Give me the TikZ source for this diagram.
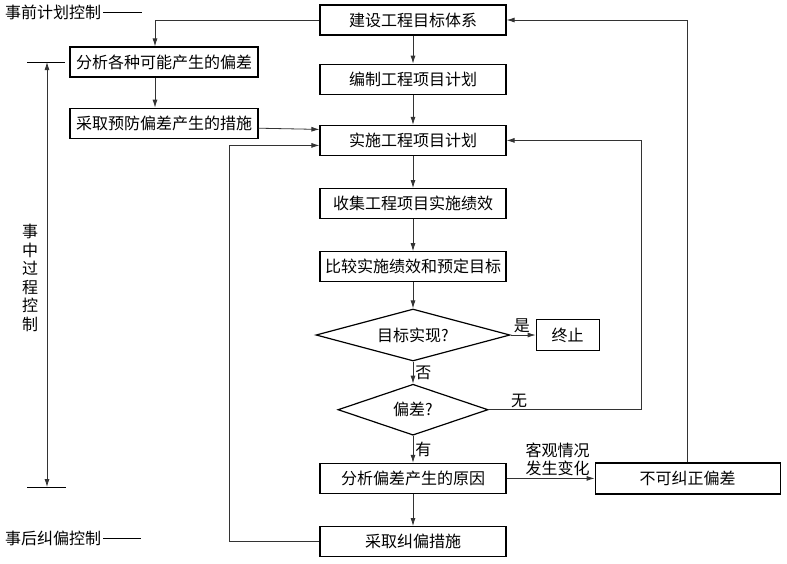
\documentclass[tikz,border=0pt]{standalone}
\usepackage{fontspec}
\setmainfont{Noto Sans CJK SC}
\usepackage{tikz}
\usetikzlibrary{shapes, arrows, arrows.meta, positioning, calc}
\tikzstyle{process} = [rectangle, draw, line width=1.2pt, minimum width=186pt, minimum height=30pt, inner sep=2pt, text centered, font=\fontsize{16}{19}\selectfont]
\tikzstyle{decision} = [diamond, draw, line width=1.2pt, aspect=3.5, inner sep=0pt, font=\fontsize{16}{19}\selectfont]
\tikzstyle{note} = [inner sep=2pt, black, font=\fontsize{16}{19}\selectfont]
\tikzstyle{arrow} = [draw, -{Latex[length=8pt, width=5pt]}, line width=0.8pt, black!80]

\begin{document}
\begin{tikzpicture}[x=1pt, y=-1pt, node distance=30pt, auto]
    \useasboundingbox (0,0) rectangle (787,563);
    % main column
    \node (target) [process] at (413,20) {建设工程目标体系};
    \node (plan) [process, below=28pt of target] {编制工程项目计划};
    \node (impl) [process, below=30pt of plan] {实施工程项目计划};
    \node (collect) [process, below=32pt of impl] {收集工程项目实施绩效};
    \node (compare) [process, below=32pt of collect] {比较实施绩效和预定目标};
    \node (goal) [decision, minimum width=194pt, minimum height=52pt, below=26pt of compare] {目标实现?};
    \node (dev) [decision, minimum width=150pt, minimum height=51pt, below=22pt of goal] {偏差?};
    \node (cause) [process, below=27pt of dev] {分析偏差产生的原因};
    \node (correct) [process, below=32pt of cause] {采取纠偏措施};
    % side boxes
    \node (stop) [process, minimum width=63pt, minimum height=31pt, right=25pt of goal] {终止};
    \node (uncorr) [process, minimum width=185pt, minimum height=31pt, right=88pt of cause] {不可纠正偏差};
    \node (analyse) [process, minimum width=188pt] at (164,62) {分析各种可能产生的偏差};
    \node (prevent) [process, minimum width=188pt, below=30pt of analyse] {采取预防偏差产生的措施};

    % flow
    \draw [arrow] (target) -- (plan);
    \draw [arrow] (plan) -- (impl);
    \draw [arrow] (impl) -- (collect);
    \draw [arrow] (collect) -- (compare);
    \draw [arrow] (compare) -- (goal);
    \draw [arrow] (goal) -- node[note, right] {否} (dev);
    \draw [arrow] (dev) -- node[note, right] {有} (cause);
    \draw [arrow] (cause) -- (correct);
    \draw [arrow] (goal) -- node[note, above, pos=0.45] {是} (stop);
    \draw [arrow] (cause) -- node[note, above, align=center, xshift=7pt, font=\fontsize{16}{18}\selectfont] {客观情况\\发生变化} (uncorr);

    % feedback loops
    \draw [arrow] (dev.east) -- node[note, pos=0.2, above] {无} ++(153,0) |- (impl.east);
    \draw [arrow] (uncorr.north) |- (target.east);
    \draw [arrow] (correct.west) -- ++(-90,0) |- ([yshift=-5pt]impl.west);
    \draw [arrow] (target.west) -| ([xshift=-9pt]analyse.north);
    \draw [arrow] ([xshift=-9pt]analyse.south) -- ([xshift=-9pt]prevent.north);
    \draw [arrow] ([yshift=-5pt]prevent.east) -- ([yshift=11pt]impl.west);

    % control phases
    \node (pre) [note, anchor=west] at (3,12) {事前计划控制};
    \draw [line width=0.8pt] (pre.east) -- ++(39,0);
    \node (post) [note, anchor=west] at (3,538) {事后纠偏控制};
    \draw [line width=0.8pt] (post.east) -- ++(38,0);
    \coordinate (midtop) at (47,62);
    \coordinate (midbot) at (47,487);
    \draw [line width=0.8pt] (midtop) ++(-20,0) -- ++(38,0);
    \draw [line width=0.8pt] (midbot) ++(-20,0) -- ++(39,0);
    \draw [{Latex[length=8pt, width=5pt]}-{Latex[length=8pt, width=5pt]}, line width=0.8pt, black!80] (midtop) -- (midbot);
    \node (mid) [note, align=center, font=\fontsize{16}{18.5}\selectfont] at (30,278) {事\\中\\过\\程\\控\\制};
\end{tikzpicture}
\end{document}
